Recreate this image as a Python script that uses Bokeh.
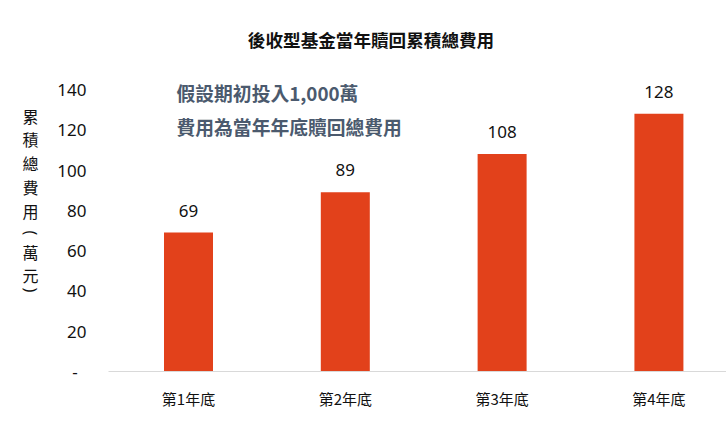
import math
from bokeh.plotting import figure
from bokeh.models import ColumnDataSource, Range1d, FixedTicker, Label
from bokeh.layouts import row
from bokeh.embed import file_html
from bokeh.resources import INLINE
from bokeh.core.properties import value

# ---- data ----
categories = ["第1年底", "第2年底", "第3年底", "第4年底"]
fees = [69, 89, 108, 128]
y_ticks = [0, 20, 40, 60, 80, 100, 120, 140]
title_text = "後收型基金當年贖回累積總費用"
note_lines = ["假設期初投入1,000萬", "費用為當年年底贖回總費用"]
y_label_chars = ["累", "積", "總", "費", "用", "萬", "元"]
y_label_parens = ["(", ")"]

CJK = "Noto Sans CJK TC"
LAT = "Noto Sans"
BAR = "#E2411B"

positions = list(range(1, len(categories) + 1))

TOTAL_W, H = 726, 428
LW = 45  # width of the strip holding the vertical axis title

# ---- left strip: vertical axis title (upright characters) ----
lf = figure(width=LW, height=H, output_backend="svg", toolbar_location=None,
            x_range=Range1d(0, LW), y_range=Range1d(H, 0),
            min_border=0, x_axis_location=None, y_axis_location=None)
lf.outline_line_color = None
lf.xgrid.grid_line_color = None
lf.ygrid.grid_line_color = None
lsrc = ColumnDataSource(dict(
    x=[30] * len(y_label_chars),
    y=[133, 160, 187, 215, 243, 290, 317],
    t=y_label_chars))
lf.text(x="x", y="y", text="t", source=lsrc, text_align="center",
        text_baseline="middle", text_font=value(CJK),
        text_font_size="16px", text_color="#111111")
psrc = ColumnDataSource(dict(x=[30, 30], y=[268, 334], t=y_label_parens))
lf.text(x="x", y="y", text="t", source=psrc, angle=-math.pi / 2,
        text_align="center", text_baseline="middle", text_font=value(LAT),
        text_font_size="16px", text_color="#111111")

# ---- main chart ----
W = TOTAL_W - LW
p = figure(width=W, height=H, output_backend="svg", toolbar_location=None,
           x_range=Range1d(0.4898, 4.431), y_range=Range1d(0, 184.2),
           min_border_left=108 - LW, min_border_right=0, min_border_top=0,
           min_border_bottom=57)
p.outline_line_color = None
p.background_fill_color = "white"
p.border_fill_color = "white"
p.xgrid.grid_line_color = None
p.ygrid.grid_line_color = None

src = ColumnDataSource(dict(x=positions, top=fees, lab=[str(v) for v in fees]))
p.vbar(x="x", top="top", width=0.3125, bottom=0, source=src,
       fill_color=BAR, line_color=None)
p.text(x="x", y="top", text="lab", source=src, y_offset=-16,
       text_align="center", text_baseline="bottom",
       text_font=value(LAT), text_font_size="17px", text_color="#111111")

# x axis
xa = p.xaxis[0]
xa.ticker = FixedTicker(ticks=positions)
xa.major_label_overrides = {pos: c for pos, c in zip(positions, categories)}
xa.major_tick_line_color = None
xa.minor_tick_line_color = None
xa.axis_line_color = "#d9d9d9"
xa.axis_line_width = 1
xa.major_label_standoff = 10
xa.major_label_text_font = CJK
xa.major_label_text_font_size = "15px"
xa.major_label_text_color = "#111111"

# y axis
ya = p.yaxis[0]
ya.ticker = FixedTicker(ticks=y_ticks)
ya.major_label_overrides = {0: "-\u00a0\u00a0"}
ya.axis_line_color = None
ya.major_tick_line_color = None
ya.minor_tick_line_color = None
ya.major_label_standoff = 16
ya.major_label_text_font = LAT
ya.major_label_text_font_size = "17px"
ya.major_label_text_color = "#111111"

# page-pixel -> data helpers for annotations
def xd(px):
    return 1 + (px - 188) / 156.8

def yd(py):
    return (371 - py) / 2.0143

p.add_layout(Label(x=xd(370.5), y=yd(39), text=title_text,
                   text_align="center", text_baseline="middle",
                   text_font=CJK, text_font_size="17.6px",
                   text_font_style="bold", text_color="#111111"))

for line, py in zip(note_lines, [91.5, 126]):
    p.add_layout(Label(x=xd(176), y=yd(py), text=line,
                       text_align="left", text_baseline="middle",
                       text_font=CJK, text_font_size="18.8px",
                       text_font_style="bold", text_color="#4B5A6E"))

layout = row(lf, p, spacing=0)
open("out.html", "w").write(file_html(layout, INLINE))
